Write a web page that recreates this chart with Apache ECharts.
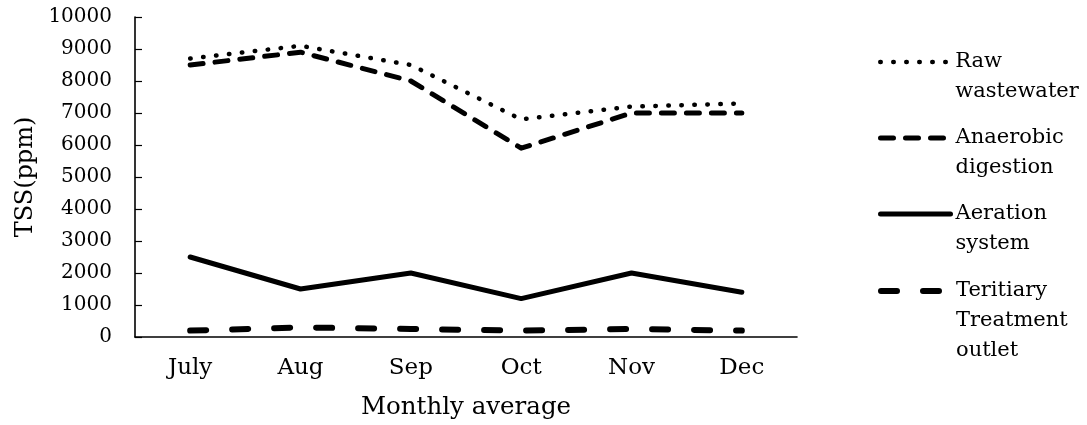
<!DOCTYPE html>
<html>
<head>
<meta charset="utf-8">
<script src="https://cdn.jsdelivr.net/npm/echarts@6/dist/echarts.min.js"></script>
<style>
  html, body { margin: 0; padding: 0; background: #fff; }
  #chart { width: 1087px; height: 425px; }
</style>
</head>
<body>
<div id="chart"></div>
<script>
// Monthly average TSS through the treatment stages
const months = ['July', 'Aug', 'Sep', 'Oct', 'Nov', 'Dec'];
const rawWastewater = [8700, 9100, 8500, 6800, 7200, 7300];
const anaerobicDigestion = [8500, 8900, 8000, 5900, 7000, 7000];
const aerationSystem = [2500, 1500, 2000, 1200, 2000, 1400];
const tertiaryOutlet = [200, 300, 250, 200, 250, 200];
const seriesNames = ['Raw wastewater', 'Anaerobic digestion', 'Aeration system', 'Teritiary Treatment outlet'];
const legendLabels = ['Raw\nwastewater', 'Anaerobic\ndigestion', 'Aeration\nsystem', 'Teritiary\nTreatment\noutlet'];

const FONT = 'DejaVu Serif';
const LH = 30;

const chart = echarts.init(document.getElementById('chart'), null, { renderer: 'canvas' });

const styles = [
  { width: 4.5, type: [0.5, 12.5], cap: 'round' },
  { width: 5, type: [13, 12], cap: 'round' },
  { width: 5, type: 'solid', cap: 'round' },
  { width: 6, type: [16, 26], cap: 'round' }
];
const values = [rawWastewater, anaerobicDigestion, aerationSystem, tertiaryOutlet];

// one legend block per series; leading blank lines keep each icon beside
// the first line of its (multi-line) label
const legendIconY = [62, 138, 214, 291];
const legends = seriesNames.map((name, i) => {
  const lines = legendLabels[i].split('\n').length;
  const pad = '\n'.repeat(lines - 1);
  const boxH = LH * (2 * lines - 1);
  return {
    data: [name],
    orient: 'vertical',
    left: 878,
    top: legendIconY[i] - boxH / 2,
    padding: 0,
    itemWidth: 70,
    itemHeight: 14,
    itemGap: 0,
    selectedMode: false,
    formatter: () => pad + legendLabels[i],
    itemStyle: { color: 'rgba(0,0,0,0)', borderColor: 'rgba(0,0,0,0)', borderWidth: 0, opacity: 0 },
    lineStyle: Object.assign({ color: '#000', opacity: 1 }, styles[i]),
    textStyle: {
      fontFamily: FONT,
      fontSize: 21,
      color: '#000',
      lineHeight: LH
    }
  };
});

chart.setOption({
  backgroundColor: '#fff',
  animation: false,
  grid: { left: 135, right: 290, top: 17, bottom: 86 },
  legend: legends,
  xAxis: {
    type: 'category',
    data: months,
    boundaryGap: true,
    name: 'Monthly average',
    nameLocation: 'middle',
    nameGap: 58,
    nameTextStyle: { fontFamily: FONT, fontSize: 24.5, color: '#000' },
    axisLine: { lineStyle: { color: '#000', width: 1.6 } },
    axisTick: { inside: true, length: 7, lineStyle: { color: '#000', width: 1.2 } },
    axisLabel: { fontFamily: FONT, fontSize: 23, color: '#000', margin: 20 },
    splitLine: { show: false }
  },
  yAxis: {
    type: 'value',
    min: 0,
    max: 10000,
    interval: 1000,
    name: 'TSS(ppm)',
    nameLocation: 'middle',
    nameGap: 97,
    nameTextStyle: { fontFamily: FONT, fontSize: 24, color: '#000' },
    axisLine: { show: true, lineStyle: { color: '#000', width: 1.6 } },
    axisTick: { show: true, inside: true, length: 7, lineStyle: { color: '#000', width: 1.2 } },
    axisLabel: { fontFamily: FONT, fontSize: 20, color: '#000', margin: 23, formatter: v => String(v) },
    splitLine: { show: false }
  },
  series: seriesNames.map((name, i) => ({
    name,
    type: 'line',
    data: values[i],
    symbol: 'none',
    color: '#000',
    lineStyle: Object.assign({ color: '#000', join: 'round' }, styles[i])
  }))
});
</script>
</body>
</html>
